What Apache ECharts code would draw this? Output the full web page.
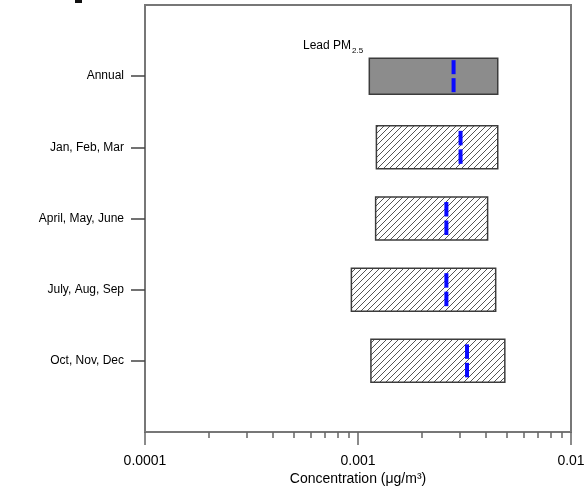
<!DOCTYPE html>
<html><head><meta charset="utf-8">
<script src="https://cdn.jsdelivr.net/npm/echarts@6/dist/echarts.min.js"></script>
<style>html,body{margin:0;padding:0;background:#fff}#c{width:586px;height:491px}</style>
</head><body><div id="c"></div>
<script>
// ---- data ----
const categories = ['Annual', 'Jan, Feb, Mar', 'April, May, June', 'July, Aug, Sep', 'Oct, Nov, Dec'];
const lowValues = [0.00113, 0.00122, 0.00121, 0.000931, 0.00115];
const highValues = [0.00453, 0.00453, 0.00406, 0.00443, 0.00489];
const medianValues = [0.00281, 0.00303, 0.00260, 0.00260, 0.00325];
const xTickLabels = ['0.0001', '0.001', '0.01'];
const minorTickValues = [0.0002, 0.0003, 0.0004, 0.0005, 0.0006, 0.0007, 0.0008, 0.0009,
                         0.002, 0.003, 0.004, 0.005, 0.006, 0.007, 0.008, 0.009];

// ---- styling helpers ----
function hatchCanvas() {
  const s = 6;
  const c = document.createElement('canvas');
  c.width = s; c.height = s;
  const g = c.getContext('2d');
  g.fillStyle = '#ffffff'; g.fillRect(0, 0, s, s);
  g.strokeStyle = '#555555'; g.lineWidth = 1;
  g.beginPath();
  g.moveTo(-1, s + 1); g.lineTo(s + 1, -1);
  g.moveTo(-1, 1); g.lineTo(1, -1);
  g.moveTo(s - 1, s + 1); g.lineTo(s + 1, s - 1);
  g.stroke();
  return c;
}
const hatch = hatchCanvas();

const yData = [''].concat(categories).concat(['']);
const seriesData = categories.map((c, i) => [i + 1, lowValues[i], highValues[i], medianValues[i]]);

const chart = echarts.init(document.getElementById('c'), null, {renderer: 'canvas'});
const lineCol = '#777777';
const font = 'Liberation Sans, Arial, sans-serif';
chart.setOption({
  animation: false,
  backgroundColor: '#ffffff',
  grid: {left: 145, right: 15, top: 5, bottom: 59, outerBoundsMode: 'none', containLabel: false,
         show: true, borderColor: lineCol, borderWidth: 2, backgroundColor: 'transparent'},
  xAxis: [{
    type: 'log', logBase: 10, min: 0.0001, max: 0.01, splitNumber: 2,
    position: 'bottom',
    name: 'Concentration (μg/m³)', nameLocation: 'middle', nameGap: 40, nameMoveOverlap: false,
    nameTextStyle: {fontFamily: font, fontSize: 14, color: '#000'},
    axisLine: {show: true, lineStyle: {color: lineCol, width: 2}},
    axisTick: {show: true, inside: false, length: 13, lineStyle: {color: '#666', width: 1.5}},
    axisLabel: {
      margin: 22, color: '#000', fontFamily: font, fontSize: 14,
      formatter: v => {
        const k = Math.round(Math.log10(v)) + 4;
        return xTickLabels[k] !== undefined ? xTickLabels[k] : '';
      }
    },
    splitLine: {show: false}, minorTick: {show: false}
  }, {
    type: 'log', logBase: 10, min: 0.0001, max: 0.01,
    position: 'bottom', gridIndex: 0,
    axisLine: {show: false},
    axisTick: {show: true, length: 6, customValues: minorTickValues, lineStyle: {color: '#666', width: 1.5}},
    axisLabel: {show: false},
    splitLine: {show: false}
  }],
  yAxis: {
    type: 'category', data: yData, inverse: true, boundaryGap: false,
    axisLine: {show: true, lineStyle: {color: lineCol, width: 2}},
    axisTick: {show: true, length: 14, interval: (idx, v) => v !== '', lineStyle: {color: '#444', width: 1.5}},
    axisLabel: {margin: 21, color: '#000', fontFamily: font, fontSize: 12, interval: (idx, v) => v !== ''},
    splitLine: {show: false}
  },
  series: [{
    type: 'custom',
    xAxisIndex: 0, yAxisIndex: 0,
    data: seriesData,
    encode: {x: [1, 2, 3], y: 0},
    renderItem: function (params, api) {
      const cat = api.value(0);
      const lo = api.coord([api.value(1), cat]);
      const hi = api.coord([api.value(2), cat]);
      const md = api.coord([api.value(3), cat]);
      const annual = cat === 1;
      const h = annual ? 36 : 43;
      const inset = annual ? 2 : 5;
      const gap = 4;
      const cy = lo[1];
      const y0 = cy - h / 2;
      const dashLen = (h - 2 * inset - gap) / 2;
      return {
        type: 'group',
        children: [
          {type: 'rect', shape: {x: lo[0], y: y0, width: hi[0] - lo[0], height: h},
           style: {fill: annual ? '#8c8c8c' : {image: hatch, repeat: 'repeat'}, stroke: '#3c3c3c', lineWidth: 1.5}},
          {type: 'rect', shape: {x: md[0] - 2, y: y0 + inset, width: 4, height: dashLen},
           style: {fill: '#0a0aff'}},
          {type: 'rect', shape: {x: md[0] - 2, y: y0 + inset + dashLen + gap, width: 4, height: dashLen},
           style: {fill: '#0a0aff'}}
        ]
      };
    }
  }],
  graphic: [
    {type: 'text', left: 303, top: 40, style: {text: 'Lead PM', fontFamily: font, fontSize: 12, fill: '#000'}},
    {type: 'text', left: 352, top: 47, style: {text: '2.5', fontFamily: font, fontSize: 8, fill: '#000'}},
    {type: 'rect', shape: {x: 75, y: 0, width: 7, height: 3}, style: {fill: '#111'}}
  ]
});
</script></body></html>
